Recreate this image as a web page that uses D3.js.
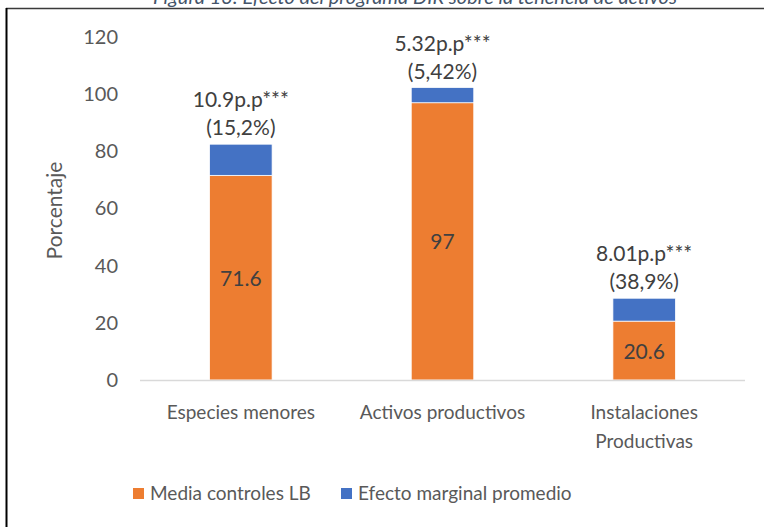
<!DOCTYPE html>
<html>
<head>
<meta charset="utf-8">
<script src="https://cdn.jsdelivr.net/npm/d3@7"></script>
<style>
  body { margin: 0; background: #fff; }
  svg { display: block; font-family: Lato, "Open Sans", sans-serif; }
</style>
</head>
<body>
<div id="chart"></div>
<script>
// Data
const categories = ["Especies menores", "Activos productivos", "Instalaciones\nProductivas"];
const mediaControles = [71.6, 97, 20.6];
const efectoMarginal = [10.9, 5.32, 8.01];
const efectoLabels = ["10.9p.p***", "5.32p.p***", "8.01p.p***"];
const pctLabels = ["(15,2%)", "(5,42%)", "(38,9%)"];
const yTicks = [0, 20, 40, 60, 80, 100, 120];
const seriesNames = ["Media controles LB", "Efecto marginal promedio"];
const seriesColors = ["#ED7D31", "#4472C4"];

const width = 764, height = 527;
const margin = {left: 140, right: 19, top: 37, bottom: 147};
const textColor = "#595959";

const svg = d3.select('#chart').append('svg')
    .attr('width', width)
    .attr('height', height);

// caption above the frame (cut off in the original too)
svg.append("text")
    .attr("x", 415)
    .attr("y", 4)
    .attr("text-anchor", "middle")
    .style("font-size", "20px")
    .style("font-style", "italic")
    .style("fill", "#44546A")
    .text("Figura 13: Efecto del programa DIR sobre la tenencia de activos");

// frame
svg.append("line").attr("x1", 6).attr("x2", width).attr("y1", 8.5).attr("y2", 8.5)
    .attr("stroke", "#3a3a3a").attr("stroke-width", 1.5);
svg.append("line").attr("x1", 6.5).attr("x2", 6.5).attr("y1", 8).attr("y2", height)
    .attr("stroke", "#000").attr("stroke-width", 2);

const x = d3.scaleBand()
    .domain(categories)
    .range([margin.left, width - margin.right])
    .paddingInner(0.69)
    .paddingOuter(0.345);

const y = d3.scaleLinear()
    .domain([0, 120])
    .range([height - margin.bottom, margin.top]);

// y axis (labels only)
const yAxis = svg.append("g")
    .attr("transform", `translate(${margin.left - 22},0)`)
    .call(d3.axisLeft(y).tickValues(yTicks).tickSize(0).tickPadding(0));
yAxis.select(".domain").remove();
yAxis.selectAll("text")
    .style("font-size", "20px")
    .style("font-family", "Lato, 'Open Sans', sans-serif")
    .style("fill", textColor);

svg.append("text")
    .attr("transform", `translate(62,${(y(0) + y(120)) / 2 + 2}) rotate(-90)`)
    .attr("text-anchor", "middle")
    .style("font-size", "21px")
    .style("fill", textColor)
    .text("Porcentaje");

// stacked bars
const rows = categories.map((c, i) => ({cat: c, base: mediaControles[i], eff: efectoMarginal[i]}));

const g = svg.append("g");
g.selectAll("rect.base")
    .data(rows)
    .enter().append("rect")
    .attr("class", "base")
    .attr("x", d => x(d.cat))
    .attr("width", x.bandwidth())
    .attr("y", d => y(d.base))
    .attr("height", d => y(0) - y(d.base))
    .attr("fill", seriesColors[0])
    .attr("stroke", "#fff").attr("stroke-width", 0.75);

g.selectAll("rect.eff")
    .data(rows)
    .enter().append("rect")
    .attr("class", "eff")
    .attr("x", d => x(d.cat))
    .attr("width", x.bandwidth())
    .attr("y", d => y(d.base + d.eff))
    .attr("height", d => y(d.base) - y(d.base + d.eff))
    .attr("fill", seriesColors[1])
    .attr("stroke", "#fff").attr("stroke-width", 0.75);

// baseline
svg.append("line")
    .attr("x1", margin.left).attr("x2", width - margin.right)
    .attr("y1", y(0) + 0.5).attr("y2", y(0) + 0.5)
    .attr("stroke", "#d9d9d9").attr("stroke-width", 1.5);

// inner value labels
g.selectAll("text.inner")
    .data(rows)
    .enter().append("text")
    .attr("x", d => x(d.cat) + x.bandwidth() / 2)
    .attr("y", d => (y(0) + y(d.base)) / 2 + 8)
    .attr("text-anchor", "middle")
    .style("font-size", "21px")
    .style("fill", "#404040")
    .text(d => d.base);

// top labels
rows.forEach((d, i) => {
    const cx = x(d.cat) + x.bandwidth() / 2;
    const top = y(d.base + d.eff);
    svg.append("text")
        .attr("x", cx).attr("y", top - 37)
        .attr("text-anchor", "middle")
        .style("font-size", "21px").style("fill", "#404040")
        .text(efectoLabels[i]);
    svg.append("text")
        .attr("x", cx).attr("y", top - 9)
        .attr("text-anchor", "middle")
        .style("font-size", "21px").style("fill", "#404040")
        .text(pctLabels[i]);
});

// category labels
categories.forEach(c => {
    const lines = c.split("\n");
    lines.forEach((ln, j) => {
        svg.append("text")
            .attr("x", x(c) + x.bandwidth() / 2)
            .attr("y", y(0) + 39 + j * 29)
            .attr("text-anchor", "middle")
            .style("font-size", "19px")
            .style("fill", textColor)
            .text(ln);
    });
});

// legend
const legendX = [133, 341];
seriesNames.forEach((name, i) => {
    svg.append("rect")
        .attr("x", legendX[i]).attr("y", 488)
        .attr("width", 11).attr("height", 11)
        .attr("fill", seriesColors[i]);
    svg.append("text")
        .attr("x", legendX[i] + 17).attr("y", 500)
        .style("font-size", "19px")
        .style("fill", textColor)
        .text(name);
});
</script>
</body>
</html>
